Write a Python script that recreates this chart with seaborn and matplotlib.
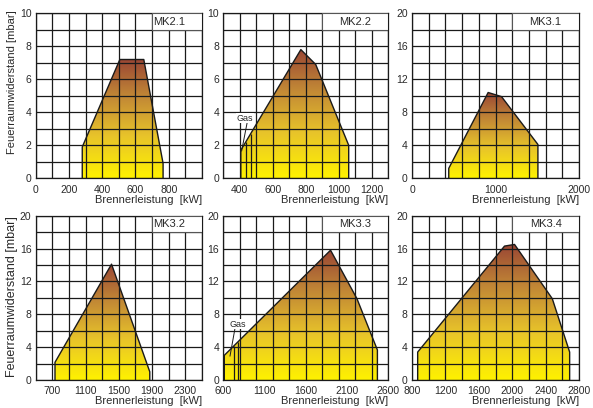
import numpy as np
import matplotlib
matplotlib.use("Agg")
import matplotlib.pyplot as plt
from matplotlib.colors import LinearSegmentedColormap
from matplotlib.patches import Polygon, Rectangle
import seaborn as sns

# ── Data ──────────────────────────────────────────────────────────────────────

mk21_kw = [280, 280, 506, 650, 766, 766]
mk21_mbar = [0, 1.9, 7.2, 7.2, 0.9, 0]

mk22_kw = [406, 406, 770, 860, 1060, 1060]
mk22_mbar = [0, 1.7, 7.8, 6.9, 2.0, 0]

mk31_kw = [440, 440, 912, 1072, 1508, 1508]
mk31_mbar = [0, 1.2, 10.4, 9.9, 4.1, 0]

mk32_kw = [732, 732, 1412, 1872, 1872]
mk32_mbar = [0, 2.15, 14.1, 1.0, 0]

mk33_kw = [612, 612, 1900, 2220, 2468, 2468]
mk33_mbar = [0, 3.0, 15.8, 9.9, 3.65, 0]

mk34_kw = [868, 868, 1908, 2028, 2480, 2688, 2688]
mk34_mbar = [0, 3.4, 16.3, 16.5, 9.9, 3.4, 0]

# gas limit lines (x, top) and leader line for the "Gas" label
mk22_gas_kw = [437, 466]
mk22_gas_top = [2.2, 2.7]
mk22_leader_kw = [445, 411]
mk22_leader_mbar = [3.4, 1.65]

mk33_gas_kw = [730, 775]
mk33_gas_top = [4.1, 4.6]
mk33_leader_kw = [742, 681]
mk33_leader_mbar = [6.3, 2.9]

panels = [
    # name, kw, mbar, xlim, xgrid, xlabels, ymax, ygrid, ylabels, box start, title x
    ("MK2.1", mk21_kw, mk21_mbar, (0, 1000), 100, [0, 200, 400, 600, 800], 10, 1, [0, 2, 4, 6, 8, 10], 700, 800),
    ("MK2.2", mk22_kw, mk22_mbar, (300, 1300), 100, [400, 600, 800, 1000, 1200], 10, 1, [0, 2, 4, 6, 8, 10], 900, 1100),
    ("MK3.1", mk31_kw, mk31_mbar, (0, 2000), 200, [0, 1000, 2000], 20, 2, [0, 4, 8, 12, 16, 20], 1200, 1600),
    ("MK3.2", mk32_kw, mk32_mbar, (500, 2500), 200, [700, 1100, 1500, 1900, 2300], 20, 2, [0, 4, 8, 12, 16, 20], 1900, 2100),
    ("MK3.3", mk33_kw, mk33_mbar, (600, 2600), 200, [600, 1100, 1600, 2100, 2600], 20, 2, [0, 4, 8, 12, 16, 20], 1800, 2200),
    ("MK3.4", mk34_kw, mk34_mbar, (800, 2800), 200, [800, 1200, 1600, 2000, 2400, 2800], 20, 2, [0, 4, 8, 12, 16, 20], 2000, 2400),
]

# ── Style ─────────────────────────────────────────────────────────────────────

sns.set_theme(style="white")
plt.rcParams["font.family"] = ["Liberation Sans", "DejaVu Sans"]

TEXT = "#2a2a2a"
LINE = "#1a1a1a"
fill_cmap = LinearSegmentedColormap.from_list(
    "burner", [(0, "#FFF200"), (0.35, "#E8C42A"), (0.7, "#C08536"), (1, "#9A4634")]
)

W, H = 593, 408
# axes rectangles in pixels: left, top, width, height
rects = [
    (35.7, 13.3, 166.3, 165), (223.3, 13.3, 165, 165), (412, 13.3, 167, 165),
    (35.7, 215.7, 166.3, 164.3), (223.3, 215.7, 165, 164.3), (412, 215.7, 167, 164.3),
]

fig = plt.figure(figsize=(W / 100, H / 100), dpi=100)
axes = []


def draw_panel(ax, name, kw, mbar, xlim, xgrid, xlabels, ymax, ygrid, ylabels, box_x0, title_x):
    top = max(mbar)
    # gradient fill clipped to the operating field
    patch = Polygon(np.column_stack([kw, mbar]), closed=True, facecolor="none", edgecolor="none")
    ax.add_patch(patch)
    grad = np.linspace(0, 1, 256).reshape(-1, 1)
    im = ax.imshow(grad, extent=[min(kw), max(kw), 0, top], origin="lower",
                   aspect="auto", cmap=fill_cmap, zorder=1)
    im.set_clip_path(patch)
    sns.lineplot(x=kw, y=mbar, sort=False, estimator=None, color=LINE,
                 linewidth=1.0, ax=ax, zorder=2)

    # grid on minor ticks, labels on major ticks
    ax.xaxis.remove_overlapping_locs = False
    ax.yaxis.remove_overlapping_locs = False
    ax.set_xticks(np.arange(xlim[0], xlim[1] + 1, xgrid), minor=True)
    ax.set_yticks(np.arange(0, ymax + 0.01, ygrid), minor=True)
    ax.set_xticks(xlabels, labels=[str(v) for v in xlabels])
    ax.set_yticks(ylabels, labels=[str(v) for v in ylabels])
    ax.set_xlim(*xlim)
    ax.set_ylim(0, ymax)
    ax.set_axisbelow(False)
    ax.grid(False, which="major")
    ax.grid(True, which="minor", color=LINE, linewidth=0.9)
    ax.tick_params(which="both", length=0, labelsize=7.5, colors=TEXT)
    ax.tick_params(axis="x", pad=4.5)
    ax.tick_params(axis="y", pad=3)
    for s in ax.spines.values():
        s.set_color(LINE)
        s.set_linewidth(0.9)
    ax.set_xlabel("")
    ax.set_ylabel("")

    # title box in the top right corner
    ax.add_patch(Rectangle((box_x0, ymax - ygrid), xlim[1] - box_x0, ygrid,
                           facecolor="white", edgecolor="#555555", linewidth=0.8, zorder=3))
    ax.text(title_x, ymax - ygrid / 2, name, ha="center", va="center",
            fontsize=8, color=TEXT, zorder=4)


for rect, p in zip(rects, panels):
    l, t, w, h = rect
    ax = fig.add_axes([l / W, (H - t - h) / H, w / W, h / H])
    draw_panel(ax, *p)
    axes.append(ax)

# gas lines
for ax, gx, gt, lx, ly, tx, ty in [
    (axes[1], mk22_gas_kw, mk22_gas_top, mk22_leader_kw, mk22_leader_mbar, 431, 3.65),
    (axes[4], mk33_gas_kw, mk33_gas_top, mk33_leader_kw, mk33_leader_mbar, 780, 6.8),
]:
    ax.vlines(gx, 0, gt, color=LINE, linewidth=0.9, zorder=2)
    ax.plot(lx, ly, color=LINE, linewidth=0.7, zorder=3)
    ax.text(tx, ty, "Gas", ha="center", va="center", fontsize=6.5, color=TEXT,
            zorder=4, bbox=dict(facecolor="white", edgecolor="none", pad=0.3))

# axis titles
for ax in axes:
    ax.set_xlabel("Brennerleistung  [kW]", fontsize=8, color=TEXT, loc="right", labelpad=0)

fig.text(12.5 / W, 1 - 82 / H, "Feuerraumwiderstand [mbar]", rotation=90,
         ha="center", va="center", fontsize=8, color=TEXT)
fig.text(12.5 / W, 1 - 297 / H, "Feuerraumwiderstand [mbar]", rotation=90,
         ha="center", va="center", fontsize=9, color=TEXT)

fig.savefig("out.png", dpi=100)
